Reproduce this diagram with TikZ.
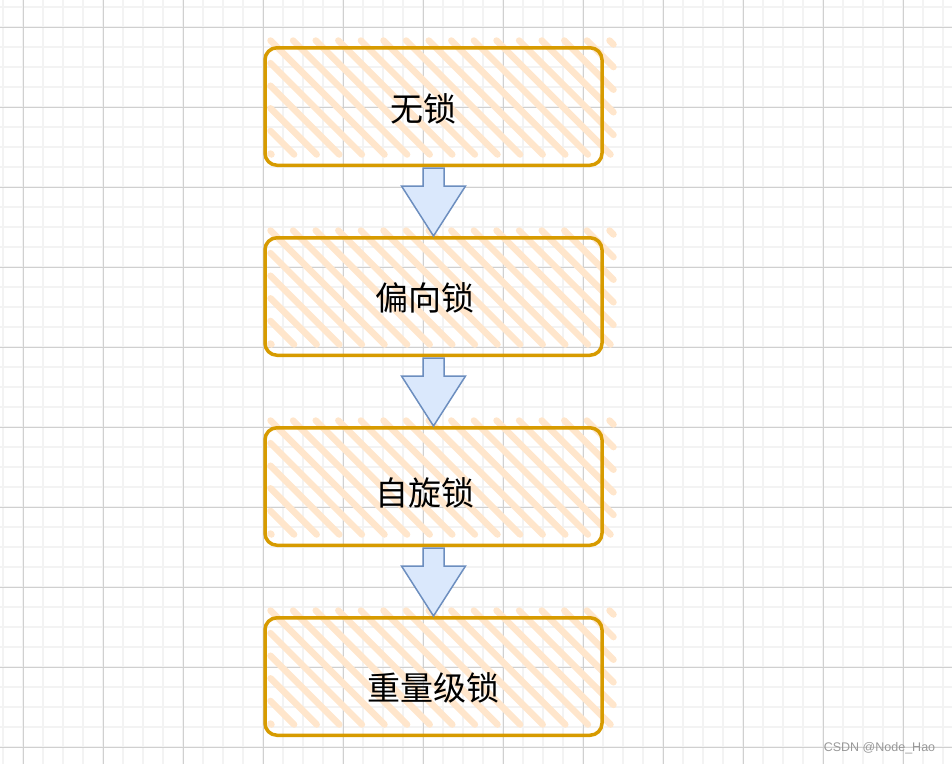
\documentclass[tikz,border=0pt]{standalone}
\usepackage{fontspec}
\newfontfamily\cjk{Noto Sans CJK SC}
\newfontfamily\marksans{Liberation Sans}
\usepackage{xcolor}
\usepackage{tikz}
\usetikzlibrary{positioning}
\usetikzlibrary{calc}
\definecolor{lockline}{HTML}{D79B00}
\definecolor{lockhatch}{HTML}{FFE6CC}
\definecolor{arrowfill}{HTML}{DAE8FC}
\definecolor{arrowline}{HTML}{6C8EBF}
\definecolor{gridmajor}{HTML}{D0D0D0}
\definecolor{gridminor}{HTML}{F3F3F3}
\pgfdeclarelayer{gridlayer}
\pgfdeclarelayer{hatchlayer}
\pgfsetlayers{gridlayer,hatchlayer,main}
\tikzset{
    lockbox/.style = {rectangle, draw=lockline, line width=3.5pt, rounded corners=12pt, minimum width=337pt, minimum height=117.5pt, inner sep=0pt},
    locktext/.style = {align=center, inner sep=0pt, text=black, font=\cjk\fontsize{33}{40}\selectfont},
    hatchline/.style = {draw=lockhatch, line width=6.5pt, line cap=round},
    blockarrow/.style = {draw=arrowline, fill=arrowfill, line width=1.5pt, line join=miter},
    gridminorline/.style = {draw=gridminor, line width=2pt},
    gridmajorline/.style = {draw=gridmajor, line width=1pt},
    wmark/.style = {inner sep=0pt, text=black!40, font=\marksans\fontsize{12.5}{15}\selectfont}
}
\newcommand{\lockhatch}[1]{%
    \foreach \c in {-210,-187.4,...,250} {
        \pgfmathsetmacro\xa{max(-163,-66+\c)}
        \pgfmathsetmacro\xb{min(180,48+\c)}
        \pgfmathsetmacro\ya{\xa-\c}
        \pgfmathsetmacro\yb{\xb-\c}
        \ifdim\xa pt<\xb pt
            \draw[hatchline] ($(#1.center)+(\xa,\ya)$) -- ($(#1.center)+(\xb,\yb)$);
        \fi
    }}
\newcommand{\lockarrow}[2]{%
    \draw[blockarrow] ($(#1.south)+(-10.5,1)$) -- ($(#1.south)+(10.5,1)$)
        -- ($(#2.north)+(10.5,-50)$) -- ($(#2.north)+(32,-50)$) -- (#2.north)
        -- ($(#2.north)+(-32,-50)$) -- ($(#2.north)+(-10.5,-50)$) -- cycle;}

\begin{document}
\begin{tikzpicture}[x=1pt, y=-1pt, node distance=69pt]
    \useasboundingbox (0,0) rectangle (952,764);

    \begin{pgfonlayer}{gridlayer}
        \foreach \x in {3,23,...,943} \draw[gridminorline] (\x,0) -- (\x,764);
        \foreach \y in {7,27,...,767} \draw[gridminorline] (0,\y) -- (952,\y);
        \foreach \x in {23,103,...,903} \draw[gridmajorline] (\x,0) -- (\x,764);
        \foreach \y in {27,107,...,747} \draw[gridmajorline] (0,\y) -- (952,\y);
    \end{pgfonlayer}

    \node [lockbox] (nolock) at (433.5,106.5) {};
    \node [lockbox, below=of nolock] (biased) {};
    \node [lockbox, below=of biased] (spin) {};
    \node [lockbox, below=of spin] (heavy) {};

    \begin{pgfonlayer}{hatchlayer}
        \foreach \b in {nolock,biased,spin,heavy} \lockhatch{\b};
    \end{pgfonlayer}

    \node [locktext] (nolocktext) at ([shift={(-10,2)}]nolock.center) {无锁};
    \node [locktext] (biasedtext) at ([shift={(-9,1.5)}]biased.center) {偏向锁};
    \node [locktext] (spintext) at ([shift={(-9,6.5)}]spin.center) {自旋锁};
    \node [locktext] (heavytext) at ([shift={(0,11.5)}]heavy.center) {重量级锁};

    \lockarrow{nolock}{biased}
    \lockarrow{biased}{spin}
    \lockarrow{spin}{heavy}

    \node [wmark] (csdn) at (879.5,748) {CSDN @Node\_Hao};
\end{tikzpicture}
\end{document}
